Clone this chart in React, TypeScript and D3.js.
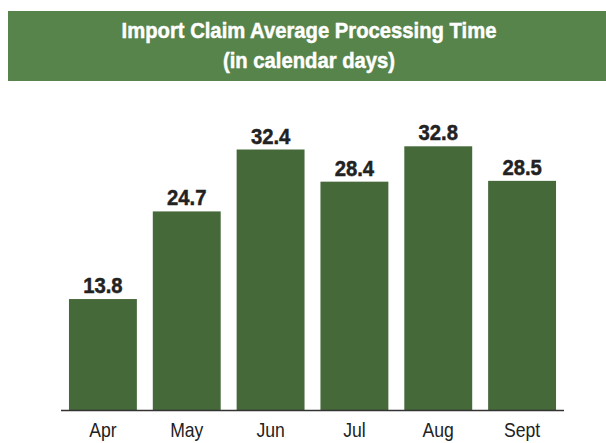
import React from "react";
import * as d3 from "d3";

const months = ["Apr", "May", "Jun", "Jul", "Aug", "Sept"];
const days = [13.8, 24.7, 32.4, 28.4, 32.8, 28.5];
const titleLines = ["Import Claim Average Processing Time", "(in calendar days)"];

const W = 606;
const H = 443;
const FONT = "'Liberation Sans', Arial, sans-serif";

// condensed look: Liberation Sans squeezed horizontally
const Narrow = ({ x, y, sx, size, bold, fill, children }: any) => (
  <text
    transform={`translate(${x},${y}) scale(${sx},1)`}
    textAnchor="middle"
    fill={fill}
    stroke={bold ? fill : "none"}
    strokeWidth={bold ? 0.5 : 0}
    fontFamily={FONT}
    fontWeight={bold ? "bold" : "normal"}
    fontSize={size}
  >
    {children}
  </text>
);

const App = () => {
  const x = d3
    .scaleBand()
    .domain(months)
    .range([61, 564])
    .paddingInner(0.19)
    .paddingOuter(0.095);

  const y = d3.scaleLinear().domain([0, 35]).range([410, 128.6]);

  return (
    <svg
      width={W}
      height={H}
      style={{ position: "absolute", left: 0, top: 0, background: "#fff" }}
    >
      {/* title band */}
      <rect x={8} y={11} width={W - 8} height={70} fill="#57844a" />
      {titleLines.map((t, i) => (
        <Narrow key={t} x={309} y={37.5 + i * 30} sx={0.9} size={22.5} bold fill="#fff">
          {t}
        </Narrow>
      ))}

      {/* bars */}
      {months.map((m, i) => {
        const cx = (x(m) || 0) + x.bandwidth() / 2;
        return (
          <g key={m}>
            <rect
              x={x(m)}
              y={y(days[i])}
              width={x.bandwidth()}
              height={y(0) - y(days[i]) + 1}
              fill="#46693a"
            />
            <Narrow x={cx} y={y(days[i]) - 6} sx={0.9} size={22.5} bold fill="#222">
              {days[i].toFixed(1)}
            </Narrow>
            <Narrow x={cx} y={437} sx={0.88} size={20} fill="#222">
              {m}
            </Narrow>
          </g>
        );
      })}

      {/* baseline */}
      <line x1={61} x2={564} y1={410.5} y2={410.5} stroke="#333" strokeWidth={1.5} />
    </svg>
  );
};

export default App;
